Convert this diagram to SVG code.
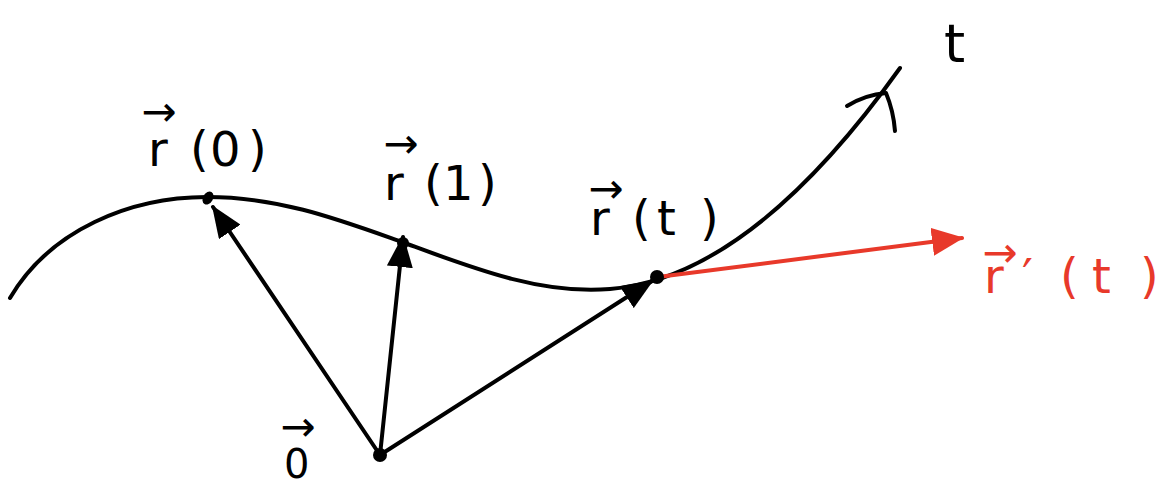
<svg xmlns="http://www.w3.org/2000/svg" width="1166" height="485" viewBox="0 0 1166 485">
<style>
.ink{fill:none;stroke:#000;stroke-width:4;stroke-linecap:round;stroke-linejoin:round}
.red{fill:none;stroke:#e8392a;stroke-width:4;stroke-linecap:round}
.dot{fill:#000}
.lbl{font-family:"DejaVu Sans",sans-serif;font-size:48px;fill:#000}
.lblr{font-family:"DejaVu Sans",sans-serif;font-size:48px;fill:#e8392a}
.vec{font-family:"DejaVu Sans",sans-serif;font-size:42px;fill:#000;text-anchor:middle}
.vecr{font-family:"DejaVu Sans",sans-serif;font-size:42px;fill:#e8392a;text-anchor:middle}
</style>
<defs>
<marker id="ah" viewBox="0 0 32 26" refX="30" refY="13" markerWidth="32" markerHeight="26" markerUnits="userSpaceOnUse" orient="auto">
<path d="M0,0 L32,13 L0,26 Z" fill="#000"/>
</marker>
<marker id="ahr" viewBox="0 0 32 28" refX="30" refY="14" markerWidth="32" markerHeight="28" markerUnits="userSpaceOnUse" orient="auto">
<path d="M0,0 L32,14 L0,28 Z" fill="#e8392a"/>
</marker>
</defs>
<g id="curve">
<path class="ink" d="M10,298 C50,230 130,197 207,197 C280,197 340,220 402,242 C470,267 540,295 610,289 C720,280 820,180 900,68"/>
<path class="ink" d="M847,106 C860,98 874,94 886,93 C891,105 894,118 895,131"/>
</g>
<g id="connectors">
<line class="ink" x1="380" y1="455" x2="213" y2="207" marker-end="url(#ah)"/>
<line class="ink" x1="380" y1="455" x2="403" y2="237" marker-end="url(#ah)"/>
<line class="ink" x1="380" y1="455" x2="652" y2="281" marker-end="url(#ah)"/>
<line class="red" x1="658" y1="277" x2="962" y2="238" marker-end="url(#ahr)"/>
</g>
<g id="origin">
<circle class="dot" cx="380" cy="455" r="7"/>
<text class="vec" x="298" y="441">→</text>
<text class="lbl" x="284" y="478" style="font-size:40px">0</text>
</g>
<g id="r0">
<ellipse class="dot" cx="208" cy="198" rx="5" ry="7" transform="rotate(30 208 198)"/>
<text class="vec" x="159" y="126">→</text>
<text class="lbl" x="148 190 210 248" y="166">r(0)</text>
</g>
<g id="r1">
<circle class="dot" cx="403" cy="243" r="6"/>
<text class="vec" x="401" y="158">→</text>
<text class="lbl" x="384 424 443 478" y="200">r(1)</text>
</g>
<g id="rt">
<circle class="dot" cx="657" cy="277" r="7"/>
<text class="vec" x="606" y="203">→</text>
<text class="lbl" x="590 632 657 700" y="235">r(t)</text>
</g>
<g id="rprime">
<text class="vecr" x="1000" y="267">→</text>
<text class="lblr" x="984 1022 1060 1092 1140" y="293">r′(t)</text>
</g>
<g id="tlabel">
<text class="lbl" x="944" y="62" style="font-size:54px">t</text>
</g>
</svg>
